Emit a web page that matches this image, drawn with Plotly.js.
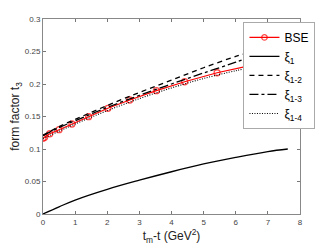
<!DOCTYPE html>
<html>
<head>
<meta charset="utf-8">
<script src="https://cdn.plot.ly/plotly-3.0.1.min.js"></script>
<style>html,body{margin:0;padding:0;background:#fff;}#chart{width:332px;height:249px;}</style>
</head>
<body>
<div id="chart"></div>
<script>
// BSE
var bseX = [0, 0.05, 0.21, 0.5, 0.9, 1.42, 2.02, 2.7, 3.53, 4.41, 5.42, 6.3];
var bseY = [0.1165, 0.118, 0.1235, 0.1297, 0.1385, 0.1497, 0.1626, 0.1754, 0.1897, 0.2035, 0.2173, 0.2268];
var bseMarkerSize = [6, 6, 6, 6, 6, 6, 6, 6, 6, 6, 6, 0];
// xi_1
var xi1X = [0, 0.5, 1, 2, 3, 4, 5, 6, 7, 7.62];
var xi1Y = [0, 0.011, 0.0215, 0.038, 0.052, 0.065, 0.077, 0.087, 0.096, 0.1];
// xi_1-2, xi_1-3, xi_1-4
var xiMX = [0, 0.5, 1, 2, 3, 4, 5, 6, 6.3];
var xi12Y = [0.121, 0.1345, 0.1455, 0.167, 0.187, 0.206, 0.225, 0.2425, 0.2467];
var xi13Y = [0.1205, 0.133, 0.1435, 0.164, 0.1825, 0.2, 0.217, 0.2335, 0.239];
var xi14Y = [0.116, 0.1275, 0.1385, 0.159, 0.1775, 0.194, 0.2085, 0.2205, 0.2235];
var xTicks = [0, 1, 2, 3, 4, 5, 6, 7, 8];
var yTicks = [0, 0.05, 0.1, 0.15, 0.2, 0.25, 0.3];
var yTickText = ['0', '0.05', '0.1', '0.15', '0.2', '0.25', '0.3'];

var traces = [
  {x: bseX, y: bseY, name: 'BSE', mode: 'lines+markers',
   line: {color: '#ff0000', width: 1.2},
   marker: {symbol: 'circle-open', size: bseMarkerSize, color: '#ff0000', line: {width: 1.3, color: '#ff0000'}}},
  {x: xi1X, y: xi1Y, name: '\u03BE<sub>1</sub>', mode: 'lines', line: {color: '#000', width: 1.3, shape: 'spline'}},
  {x: xiMX, y: xi12Y, name: '\u03BE<sub>1-2</sub>', mode: 'lines', line: {color: '#000', width: 1.3, dash: '5px,4px', shape: 'spline'}},
  {x: xiMX, y: xi13Y, name: '\u03BE<sub>1-3</sub>', mode: 'lines', line: {color: '#000', width: 1.3, dash: 'dashdot', shape: 'spline'}},
  {x: xiMX, y: xi14Y, name: '\u03BE<sub>1-4</sub>', mode: 'lines', line: {color: '#000', width: 1.1, dash: '1px,1.5px', shape: 'spline'}}
];

var axCommon = {
  showgrid: false, zeroline: false, showline: true, mirror: 'ticks',
  linecolor: '#888', linewidth: 1, ticks: 'inside', ticklen: 3, tickcolor: '#555', tickwidth: 0.8,
  tickfont: {family: 'Liberation Sans, Arial, sans-serif', size: 8, color: '#444'}
};

var layout = {
  width: 332, height: 249,
  margin: {l: 43, r: 32, t: 19, b: 35},
  paper_bgcolor: '#fff', plot_bgcolor: '#fff',
  showlegend: true,
  xaxis: Object.assign({}, axCommon, {
    range: [0, 8], tickvals: xTicks, ticktext: xTicks.map(String),
    title: {text: 't<sub>m</sub>-t (GeV<sup>2</sup>)', font: {family: 'Liberation Sans, Arial, sans-serif', size: 12, color: '#222'}, standoff: 6}
  }),
  yaxis: Object.assign({}, axCommon, {
    range: [0, 0.3], tickvals: yTicks, ticktext: yTickText,
    title: {text: 'form factor t<sub>3</sub>', font: {family: 'Liberation Sans, Arial, sans-serif', size: 12, color: '#222'}, standoff: 2}
  }),
  legend: {
    x: 0.78, y: 0.985, xanchor: 'left', yanchor: 'top',
    bgcolor: '#fff', bordercolor: '#aaa', borderwidth: 1,
    font: {family: 'Liberation Sans, Arial, sans-serif', size: 12, color: '#000'},
    itemwidth: 30
  }
};

Plotly.newPlot('chart', traces, layout, {staticPlot: true, displayModeBar: false});
</script>
</body>
</html>
